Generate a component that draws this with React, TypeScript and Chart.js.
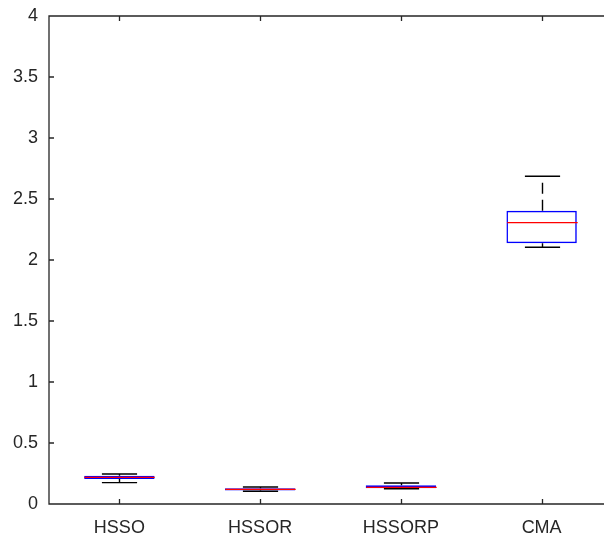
import React, { useEffect, useRef } from "react";
import { Chart, registerables } from "chart.js";

Chart.register(...registerables);

const categories = ["HSSO", "HSSOR", "HSSORP", "CMA"];
const lowerWhisker = [0.175, 0.105, 0.125, 2.104];
const q1 = [0.205, 0.11, 0.129, 2.137];
const median = [0.218, 0.12, 0.137, 2.306];
const q3 = [0.232, 0.13, 0.153, 2.404];
const upperWhisker = [0.246, 0.139, 0.172, 2.686];
const yTicks = [0, 0.5, 1, 1.5, 2, 2.5, 3, 3.5, 4];
const yTickLabels = ["0", "0.5", "1", "1.5", "2", "2.5", "3", "3.5", "4"];

const AXIS = "#262626";
const FONT = { family: "'Liberation Sans', Arial, Helvetica, sans-serif", size: 18 };

const boxExtras = {
  id: "boxExtras",
  afterDatasetsDraw(chart: any) {
    const { ctx, scales } = chart;
    const x = scales.x;
    const y = scales.y;
    const spacing = x.getPixelForValue(1) - x.getPixelForValue(0);
    const boxHalf = spacing * 0.25;
    const capHalf = spacing * 0.125;
    ctx.save();
    categories.forEach((_, i) => {
      const cx = Math.round(x.getPixelForValue(i)) + 0.5;
      const yq1 = y.getPixelForValue(q1[i]);
      const yq3 = y.getPixelForValue(q3[i]);
      const yLo = y.getPixelForValue(lowerWhisker[i]);
      const yHi = y.getPixelForValue(upperWhisker[i]);
      const yMed = y.getPixelForValue(median[i]);
      ctx.strokeStyle = "#000";
      ctx.lineWidth = 1.4;
      ctx.setLineDash([11, 6]);
      ctx.beginPath();
      ctx.moveTo(cx, yq3);
      ctx.lineTo(cx, yHi);
      ctx.moveTo(cx, yq1);
      ctx.lineTo(cx, yLo);
      ctx.stroke();
      ctx.setLineDash([]);
      ctx.beginPath();
      ctx.moveTo(cx - capHalf, yHi);
      ctx.lineTo(cx + capHalf, yHi);
      ctx.moveTo(cx - capHalf, yLo);
      ctx.lineTo(cx + capHalf, yLo);
      ctx.stroke();
      ctx.strokeStyle = "#ff0000";
      ctx.lineWidth = 1.3;
      ctx.beginPath();
      ctx.moveTo(cx - boxHalf, yMed);
      ctx.lineTo(cx + boxHalf, yMed);
      ctx.stroke();
    });
    ctx.restore();
  },
  afterDraw(chart: any) {
    const { ctx, chartArea, scales } = chart;
    const { left, right, top, bottom } = chartArea;
    const x = scales.x;
    const y = scales.y;
    const tick = 5;
    ctx.save();
    ctx.strokeStyle = AXIS;
    ctx.lineWidth = 1.3;
    ctx.beginPath();
    ctx.moveTo(left, top);
    ctx.lineTo(right, top);
    ctx.lineTo(right, bottom);
    ctx.lineTo(left, bottom);
    ctx.closePath();
    y.ticks.forEach((t: any) => {
      const py = y.getPixelForValue(t.value);
      ctx.moveTo(left, py);
      ctx.lineTo(left + tick, py);
      ctx.moveTo(right, py);
      ctx.lineTo(right - tick, py);
    });
    categories.forEach((_, i) => {
      const px = Math.round(x.getPixelForValue(i)) + 0.5;
      ctx.moveTo(px, bottom);
      ctx.lineTo(px, bottom - tick);
      ctx.moveTo(px, top);
      ctx.lineTo(px, top + tick);
    });
    ctx.stroke();
    ctx.restore();
  },
};

export default function App() {
  const ref = useRef<HTMLCanvasElement>(null);
  useEffect(() => {
    const canvas = ref.current!;
    const chart = new Chart(canvas, {
      type: "bar",
      data: {
        labels: categories,
        datasets: [
          {
            data: categories.map((_, i) => [q1[i], q3[i]]) as any,
            backgroundColor: "rgba(0,0,0,0)",
            borderColor: "#0000ff",
            borderWidth: 1.5,
            borderSkipped: false,
            barPercentage: 0.5,
            categoryPercentage: 1,
          },
        ],
      },
      options: {
        animation: false,
        responsive: false,
        events: [],
        layout: { padding: { left: 0, top: 16, right: 18, bottom: 0 } },
        plugins: { legend: { display: false }, tooltip: { enabled: false } },
        scales: {
          x: {
            offset: true,
            grid: { display: false },
            border: { display: false },
            ticks: { color: AXIS, font: FONT, padding: 5, maxRotation: 0 },
            afterFit: (s: any) => {
              s.height = 34;
            },
          },
          y: {
            min: 0,
            max: 4,
            grid: { display: false },
            border: { display: false },
            afterBuildTicks: (s: any) => {
              s.ticks = yTicks.map((v) => ({ value: v }));
            },
            ticks: {
              color: AXIS,
              font: FONT,
              padding: 3,
              callback: (_v: any, idx: number) => yTickLabels[idx],
            },
            afterFit: (s: any) => {
              s.width = 49;
            },
          },
        },
      },
      plugins: [boxExtras],
    });
    return () => chart.destroy();
  }, []);
  return (
    <div
      style={{
        position: "fixed",
        left: 0,
        top: 0,
        width: 604,
        height: 538,
        overflow: "hidden",
        background: "#fff",
      }}
    >
      <canvas ref={ref} width={630} height={538} style={{ display: "block" }} />
    </div>
  );
}
